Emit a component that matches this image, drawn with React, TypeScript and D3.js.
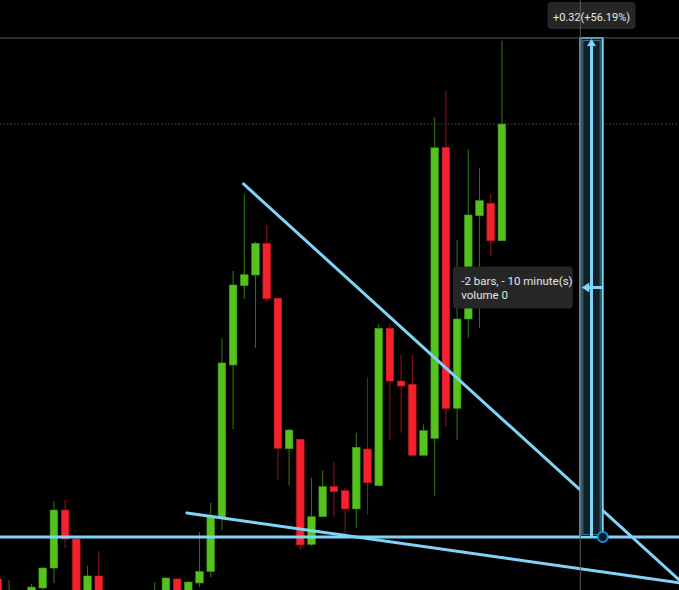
import React from "react";
import * as d3 from "d3";

const W = 679;
const H = 590;

// bar index (5-minute bars)
const bars = [-3, -2, -1, 0, 1, 2, 3, 4, 5, 6, 7, 8, 9, 10, 11, 12, 13, 14, 15, 16, 17, 18, 19, 20, 21, 22, 23, 24, 25, 26, 27, 28, 29, 30, 31, 32, 33, 34, 35, 36, 37, 38, 39, 40, 41, 42];
const opens = [0.5426, 0.5291, 0.524, 0.5317, 0.5368, 0.5496, 0.5868, 0.5682, 0.5317, 0.5445, 0.529, 0.527, 0.53, 0.528, 0.5278, 0.5323, 0.5426, 0.5336, 0.54, 0.5474, 0.5823, 0.6798, 0.7307, 0.7375, 0.7578, 0.7226, 0.6261, 0.6322, 0.5648, 0.5825, 0.6018, 0.5992, 0.5875, 0.6259, 0.6024, 0.7033, 0.6695, 0.6674, 0.6219, 0.6328, 0.8194, 0.652, 0.7093, 0.7755, 0.7835, 0.7595];
const highs = [0.5451, 0.5419, 0.53, 0.5394, 0.5503, 0.5926, 0.5932, 0.5682, 0.5512, 0.5605, 0.533, 0.531, 0.534, 0.532, 0.5406, 0.5438, 0.5432, 0.5413, 0.5727, 0.5913, 0.6971, 0.7401, 0.7895, 0.7589, 0.7696, 0.7228, 0.6388, 0.6323, 0.6075, 0.6125, 0.6174, 0.6007, 0.6364, 0.6717, 0.7061, 0.7061, 0.6862, 0.6862, 0.6418, 0.8386, 0.8557, 0.76, 0.8181, 0.8059, 0.7895, 0.8878];
const lows = [0.5227, 0.5259, 0.521, 0.5304, 0.5355, 0.54, 0.5624, 0.5259, 0.5291, 0.5259, 0.525, 0.523, 0.526, 0.525, 0.5253, 0.5304, 0.5291, 0.5317, 0.5374, 0.5438, 0.574, 0.6388, 0.7221, 0.6907, 0.7202, 0.6061, 0.6024, 0.5612, 0.5637, 0.5823, 0.5825, 0.568, 0.5755, 0.5841, 0.6022, 0.6317, 0.6364, 0.6219, 0.6219, 0.596, 0.6402, 0.6317, 0.6971, 0.7035, 0.7497, 0.7593];
const closes = [0.5291, 0.5342, 0.528, 0.5374, 0.5496, 0.5868, 0.5682, 0.5304, 0.5445, 0.5317, 0.527, 0.53, 0.528, 0.531, 0.5329, 0.5432, 0.5329, 0.5406, 0.5474, 0.5823, 0.6811, 0.7311, 0.7377, 0.7578, 0.7223, 0.6264, 0.6381, 0.5644, 0.5825, 0.6018, 0.5986, 0.5875, 0.627, 0.6043, 0.7033, 0.6695, 0.6663, 0.6219, 0.6377, 0.8191, 0.652, 0.7093, 0.776, 0.7852, 0.7595, 0.8343];

// drawings (bar index, price)
const trendDown = [[18.93, 0.7959], [60, 0.5278]];
const trendLow = [[13.88, 0.5849], [60, 0.5379]];
const basePrice = 0.5695;
const lastPrice = 0.8343;

// measurement tool
const measureFromBar = 51;
const measureToBar = 49;
const measureFromPrice = 0.5695;
const measureToPrice = 0.8895;
const measureLabel = "+0.32(+56.19%)";
const tooltipLines = ["-2 bars, - 10 minute(s)", "volume 0"];

const crossBar = 49;
const crossPrice = 0.8895;

const x = d3.scaleLinear().domain([-2.8125, 57.8125]).range([0, W]);
const y = d3.scaleLinear().domain([0.53551, 0.91386]).range([H, 0]);

const UP = "#55c21e";
const UP_EDGE = "#3f9616";
const UP_WICK = "#2e6e12";
const DN = "#f5222d";
const DN_EDGE = "#c0141e";
const DN_WICK = "#8c1119";
const BLUE = "#7fd4f8";
const FONT = "Roboto, 'Open Sans', sans-serif";

export default function App() {
  const bodyW = 7.6;
  const line = d3.line<number[]>().x((d) => x(d[0])).y((d) => y(d[1]));

  const mx0 = x(measureToBar);
  const mx1 = x(measureFromBar);
  const mxMid = x((measureFromBar + measureToBar) / 2);
  const my0 = y(measureFromPrice);
  const my1 = y(measureToPrice);
  const myMid = y((measureFromPrice + measureToPrice) / 2);

  const tipW = 120;
  const tipH = 42;
  const tipX = mx0 - 7.5 - tipW;
  const tipY = myMid - tipH / 2;

  const lblW = 88;
  const lblH = 27;

  return (
    <svg
      width={W}
      height={H}
      style={{ position: "absolute", left: 0, top: 0, background: "#000", display: "block" }}
    >
      <rect x={0} y={0} width={W} height={H} fill="#000" />
      <defs>
        <clipPath id="pane">
          <rect x={0} y={0} width={W} height={H} />
        </clipPath>
      </defs>
      <g clipPath="url(#pane)">
        {/* last price dotted line */}
        <line x1={0} x2={W} y1={y(lastPrice)} y2={y(lastPrice)} stroke="#2c6a1c" strokeWidth={1} strokeDasharray="1.5,2" />

        {/* wicks */}
        {bars.map((b, i) => {
          const up = closes[i] >= opens[i];
          return (
            <line
              key={"w" + b}
              x1={x(b)}
              x2={x(b)}
              y1={y(highs[i])}
              y2={y(lows[i])}
              stroke={up ? UP_WICK : DN_WICK}
              strokeWidth={1.1}
            />
          );
        })}
        {/* bodies */}
        {bars.map((b, i) => {
          const up = closes[i] >= opens[i];
          const top = y(Math.max(opens[i], closes[i]));
          const bot = y(Math.min(opens[i], closes[i]));
          return (
            <rect
              key={"b" + b}
              x={x(b) - bodyW / 2}
              y={top}
              width={bodyW}
              height={Math.max(bot - top, 1)}
              fill={up ? UP : DN}
              stroke={up ? UP_EDGE : DN_EDGE}
              strokeWidth={0.6}
            />
          );
        })}

        {/* horizontal base line */}
        <line x1={0} x2={W} y1={y(basePrice)} y2={y(basePrice)} stroke={BLUE} strokeWidth={3} />
        {/* trend lines */}
        <path d={line(trendLow) || ""} stroke={BLUE} strokeWidth={3} fill="none" strokeLinecap="round" />
        <path d={line(trendDown) || ""} stroke={BLUE} strokeWidth={3} fill="none" strokeLinecap="round" />

        {/* measurement box */}
        <rect x={mx0} y={my1} width={mx1 - mx0} height={my0 - my1} fill="#10212a" stroke={BLUE} strokeWidth={2} />
        <rect x={mx0 + 2.5} y={my1 + 2.5} width={mx1 - mx0 - 5} height={my0 - my1 - 5} fill="none" stroke="#3f7287" strokeWidth={1} />
        {/* vertical arrow */}
        <line x1={mxMid} x2={mxMid} y1={my0} y2={my1 + 6} stroke={BLUE} strokeWidth={3} />
        <path
          d={`M${mxMid},${my1 + 1} L${mxMid - 4.5},${my1 + 8} L${mxMid + 4.5},${my1 + 8} Z`}
          fill={BLUE}
        />
        {/* horizontal arrow */}
        <line x1={mx1} x2={mx0 + 7} y1={myMid} y2={myMid} stroke={BLUE} strokeWidth={3} />
        <path
          d={`M${mx0 + 1.5},${myMid} L${mx0 + 9},${myMid - 5} L${mx0 + 9},${myMid + 5} Z`}
          fill={BLUE}
        />
        {/* anchor circle */}
        <circle cx={mx1} cy={my0} r={5} fill="#0c1a22" stroke="#1d8fe3" strokeWidth={2} />

        {/* tooltip */}
        <rect x={tipX} y={tipY} width={tipW} height={tipH} rx={4} fill="#262626" />
        <text x={tipX + 8.5} y={tipY + 19} fill="#e6e6e6" fontSize={11.5} fontFamily={FONT}>
          {tooltipLines[0]}
        </text>
        <text x={tipX + 8.5} y={tipY + 32.5} fill="#e6e6e6" fontSize={11.5} fontFamily={FONT}>
          {tooltipLines[1]}
        </text>

        {/* measure label */}
        <rect x={mxMid - lblW / 2} y={2} width={lblW} height={lblH} rx={4} fill="#262626" />
        <text x={mxMid} y={20.5} fill="#e6e6e6" fontSize={11} fontFamily={FONT} textAnchor="middle">
          {measureLabel}
        </text>

        {/* crosshair */}
        <line x1={0} x2={W} y1={y(crossPrice)} y2={y(crossPrice)} stroke="#5a5a5a" strokeWidth={1} />
        <line x1={x(crossBar)} x2={x(crossBar)} y1={0} y2={H} stroke="#5a5a5a" strokeWidth={1} />
      </g>
    </svg>
  );
}
